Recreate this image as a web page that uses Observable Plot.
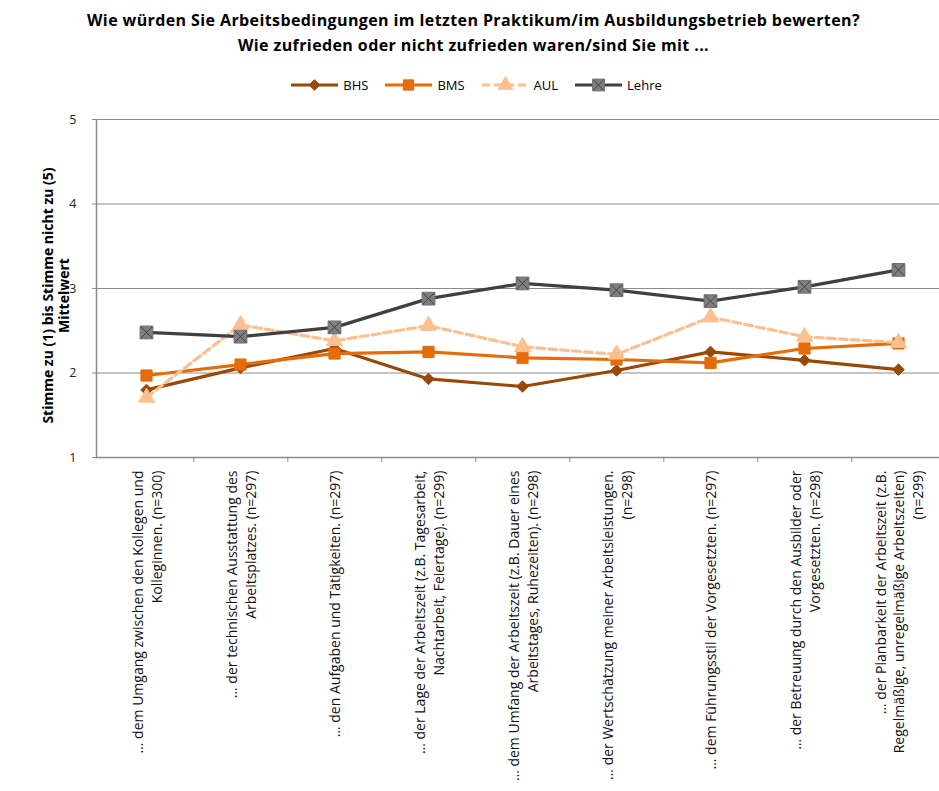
<!DOCTYPE html>
<html>
<head>
<meta charset="utf-8">
<script src="https://cdn.jsdelivr.net/npm/d3@7"></script>
<script src="https://cdn.jsdelivr.net/npm/@observablehq/plot@0.6"></script>
<style>
  html, body { margin: 0; padding: 0; background: #fff; }
  #wrap { position: relative; width: 939px; height: 791px; overflow: hidden; font-family: "Open Sans", sans-serif; }
  #title { position: absolute; left: 0; top: 8px; width: 939px; padding-left: 8px; box-sizing: border-box; text-align: center;
           font-weight: bold; font-size: 16px; letter-spacing: 0.4px; line-height: 25px; color: #000; z-index: 2; }
  #legend { position: absolute; left: 0; top: 76px; width: 939px; padding-left: 14px; box-sizing: border-box; display: flex; justify-content: center;
            gap: 17px; font-size: 13px; line-height: 18px; color: #000; z-index: 2; }
  .item { display: flex; align-items: center; gap: 5px; }
  #chart { position: absolute; left: 0; top: 0; }
</style>
</head>
<body>
<div id="wrap">
  <div id="title"></div>
  <div id="legend"></div>
  <div id="chart"></div>
</div>
<script>
// ---- data ----
const titleLines = [
  "Wie würden Sie Arbeitsbedingungen im letzten Praktikum/im Ausbildungsbetrieb bewerten?",
  "Wie zufrieden oder nicht zufrieden waren/sind Sie mit ..."
];
const yTitle = "Stimme zu (1) bis Stimme nicht zu (5)\nMittelwert";
const categories = [
  "… dem Umgang zwischen den Kollegen und\nKolleginnen. (n=300)",
  "… der technischen Ausstattung des\nArbeitsplatzes. (n=297)",
  "… den Aufgaben und Tätigkeiten. (n=297)",
  "… der Lage der Arbeitszeit (z.B. Tagesarbeit,\nNachtarbeit, Feiertage). (n=299)",
  "… dem Umfang der Arbeitszeit (z.B. Dauer eines\nArbeitstages, Ruhezeiten). (n=298)",
  "… der Wertschätzung meiner Arbeitsleistungen.\n(n=298)",
  "… dem Führungsstil der Vorgesetzten. (n=297)",
  "… der Betreuung durch den Ausbilder oder\nVorgesetzten. (n=298)",
  "… der Planbarkeit der Arbeitszeit (z.B.\nRegelmäßige, unregelmäßige Arbeitszeiten)\n(n=299)"
];
const yTicks = [1, 2, 3, 4, 5];
const seriesNames = ["BHS", "BMS", "AUL", "Lehre"];
const bhs   = [1.80, 2.06, 2.29, 1.93, 1.84, 2.03, 2.25, 2.15, 2.04];
const bms   = [1.97, 2.10, 2.23, 2.25, 2.18, 2.16, 2.12, 2.29, 2.35];
const aul   = [1.71, 2.57, 2.38, 2.56, 2.31, 2.22, 2.66, 2.43, 2.36];
const lehre = [2.48, 2.43, 2.54, 2.88, 3.06, 2.98, 2.85, 3.02, 3.22];

// ---- styles ----
const styles = {
  BHS:   {line: "#984807", fill: "#984807", symbol: "diamond2", r: 5.2, dash: null},
  BMS:   {line: "#E46C0A", fill: "#E46C0A", symbol: "square",   r: 6.3, dash: null},
  AUL:   {line: "#FAC090", fill: "#FAC090", symbol: "triangle", r: 6.0, dash: "8,4"},
  Lehre: {line: "#404040", fill: "#7F7F7F", symbol: "square",   r: 7.2, dash: null}
};
const valuesOf = {BHS: bhs, BMS: bms, AUL: aul, Lehre: lehre};
const rows = seriesNames.map(s => categories.map((c, i) => ({series: s, cat: c, value: valuesOf[s][i]})));

// ---- title & legend ----
document.getElementById("title").innerHTML = titleLines.map(t => `<div>${t}</div>`).join("");
const legend = document.getElementById("legend");
const symGen = {diamond2: d3.symbolDiamond2, square: d3.symbolSquare, triangle: d3.symbolTriangle};
seriesNames.forEach(s => {
  const st = styles[s];
  const size = Math.PI * st.r * st.r * 0.85;
  const path = d3.symbol(symGen[st.symbol], size)();
  let extra = "";
  if (s === "Lehre") {
    extra = `<path d="${d3.symbol(d3.symbolTimes, Math.PI*5.2*5.2*0.85)()}" transform="translate(23.5,9)" fill="none" stroke="#404040" stroke-width="1"/>`;
  }
  const div = document.createElement("div");
  div.className = "item";
  div.innerHTML = `<svg width="47" height="18">
      <line x1="0" x2="47" y1="9" y2="9" stroke="${st.line}" stroke-width="3" ${st.dash ? `stroke-dasharray="${st.dash}"` : ""}/>
      <path d="${path}" transform="translate(23.5,9)" fill="${st.fill}" stroke="${s==='Lehre' ? '#6F6F6F' : st.fill}"/>${extra}
    </svg><span>${s}</span>`;
  legend.appendChild(div);
});

// ---- chart ----
const xRange = [96, 948];
const bw = (xRange[1] - xRange[0]) / categories.length;

const marks = [
  Plot.gridY(yTicks.slice(1), {stroke: "#8C8C8C", strokeOpacity: 1, strokeWidth: 1.2}),
  Plot.ruleY([1], {stroke: "#8C8C8C", strokeWidth: 1.5}),
  Plot.frame({anchor: "left", stroke: "#8C8C8C", strokeWidth: 1.5}),
  Plot.axisY({ticks: yTicks, tickFormat: d3.format("d"), tickSize: 4, tickPadding: 16, label: null,
    stroke: "#8C8C8C", fill: "#222", fontSize: 12.5}),
  Plot.axisX({tickSize: 5, tickFormat: () => "", label: null, dx: bw / 2, stroke: "#8C8C8C"}),
  Plot.text(categories, {x: d => d, text: d => d, frameAnchor: "bottom", rotate: -90, textAnchor: "end",
    lineAnchor: "middle", dy: 13, fontSize: 14, lineHeight: 1.32, fill: "#111", ariaLabel: "xlabels"}),
  Plot.text([yTitle], {text: d => d, frameAnchor: "left", rotate: -90, textAnchor: "middle", lineAnchor: "middle",
    dx: -41, dy: 7, fontSize: 14, fontWeight: "bold", lineHeight: 1.15, fill: "#000", ariaLabel: "ytitle"})
];
seriesNames.forEach((s, k) => {
  const st = styles[s];
  marks.push(Plot.line(rows[k], {x: "cat", y: "value", stroke: st.line, strokeWidth: 3.2,
    strokeDasharray: st.dash || undefined, strokeLinejoin: "round"}));
  marks.push(Plot.dot(rows[k], {x: "cat", y: "value", symbol: () => st.symbol, r: st.r, fill: st.fill,
    stroke: s === "Lehre" ? "#6F6F6F" : st.fill, strokeWidth: 1}));
  if (s === "Lehre") {
    marks.push(Plot.dot(rows[k], {x: "cat", y: "value", symbol: "times", r: 5.2, stroke: "#404040", strokeWidth: 1}));
  }
});

const chart = Plot.plot({
  width: 939, height: 791,
  marginTop: 119, marginBottom: 334, marginLeft: 96, marginRight: 0,
  style: {fontFamily: "Open Sans", fontSize: "12px", color: "#000", background: "transparent", overflow: "visible"},
  x: {type: "band", domain: categories, range: xRange, padding: 0, axis: null},
  y: {domain: [1, 5], range: [457, 119], axis: null},
  symbol: {domain: ["diamond2", "square", "triangle", "times"], range: ["diamond2", "square", "triangle", "times"]},
  marks
});
document.getElementById("chart").appendChild(chart);

// letter spacing like the original's wide Calibri text
d3.select(chart).selectAll('g[aria-label="xlabels"] text').style("letter-spacing", "0.4px");
d3.select(chart).selectAll('g[aria-label="ytitle"] text').style("letter-spacing", "0.7px");

// center the wrapped lines of each category label, as the original does
d3.select(chart).selectAll('g[aria-label="xlabels"] text').each(function() {
  const spans = Array.from(this.querySelectorAll("tspan"));
  if (spans.length < 2) return;
  const lens = spans.map(t => t.getComputedTextLength());
  const L = Math.max(...lens);
  spans.forEach((t, i) => t.setAttribute("x", -(L - lens[i]) / 2));
});
</script>
</body>
</html>
